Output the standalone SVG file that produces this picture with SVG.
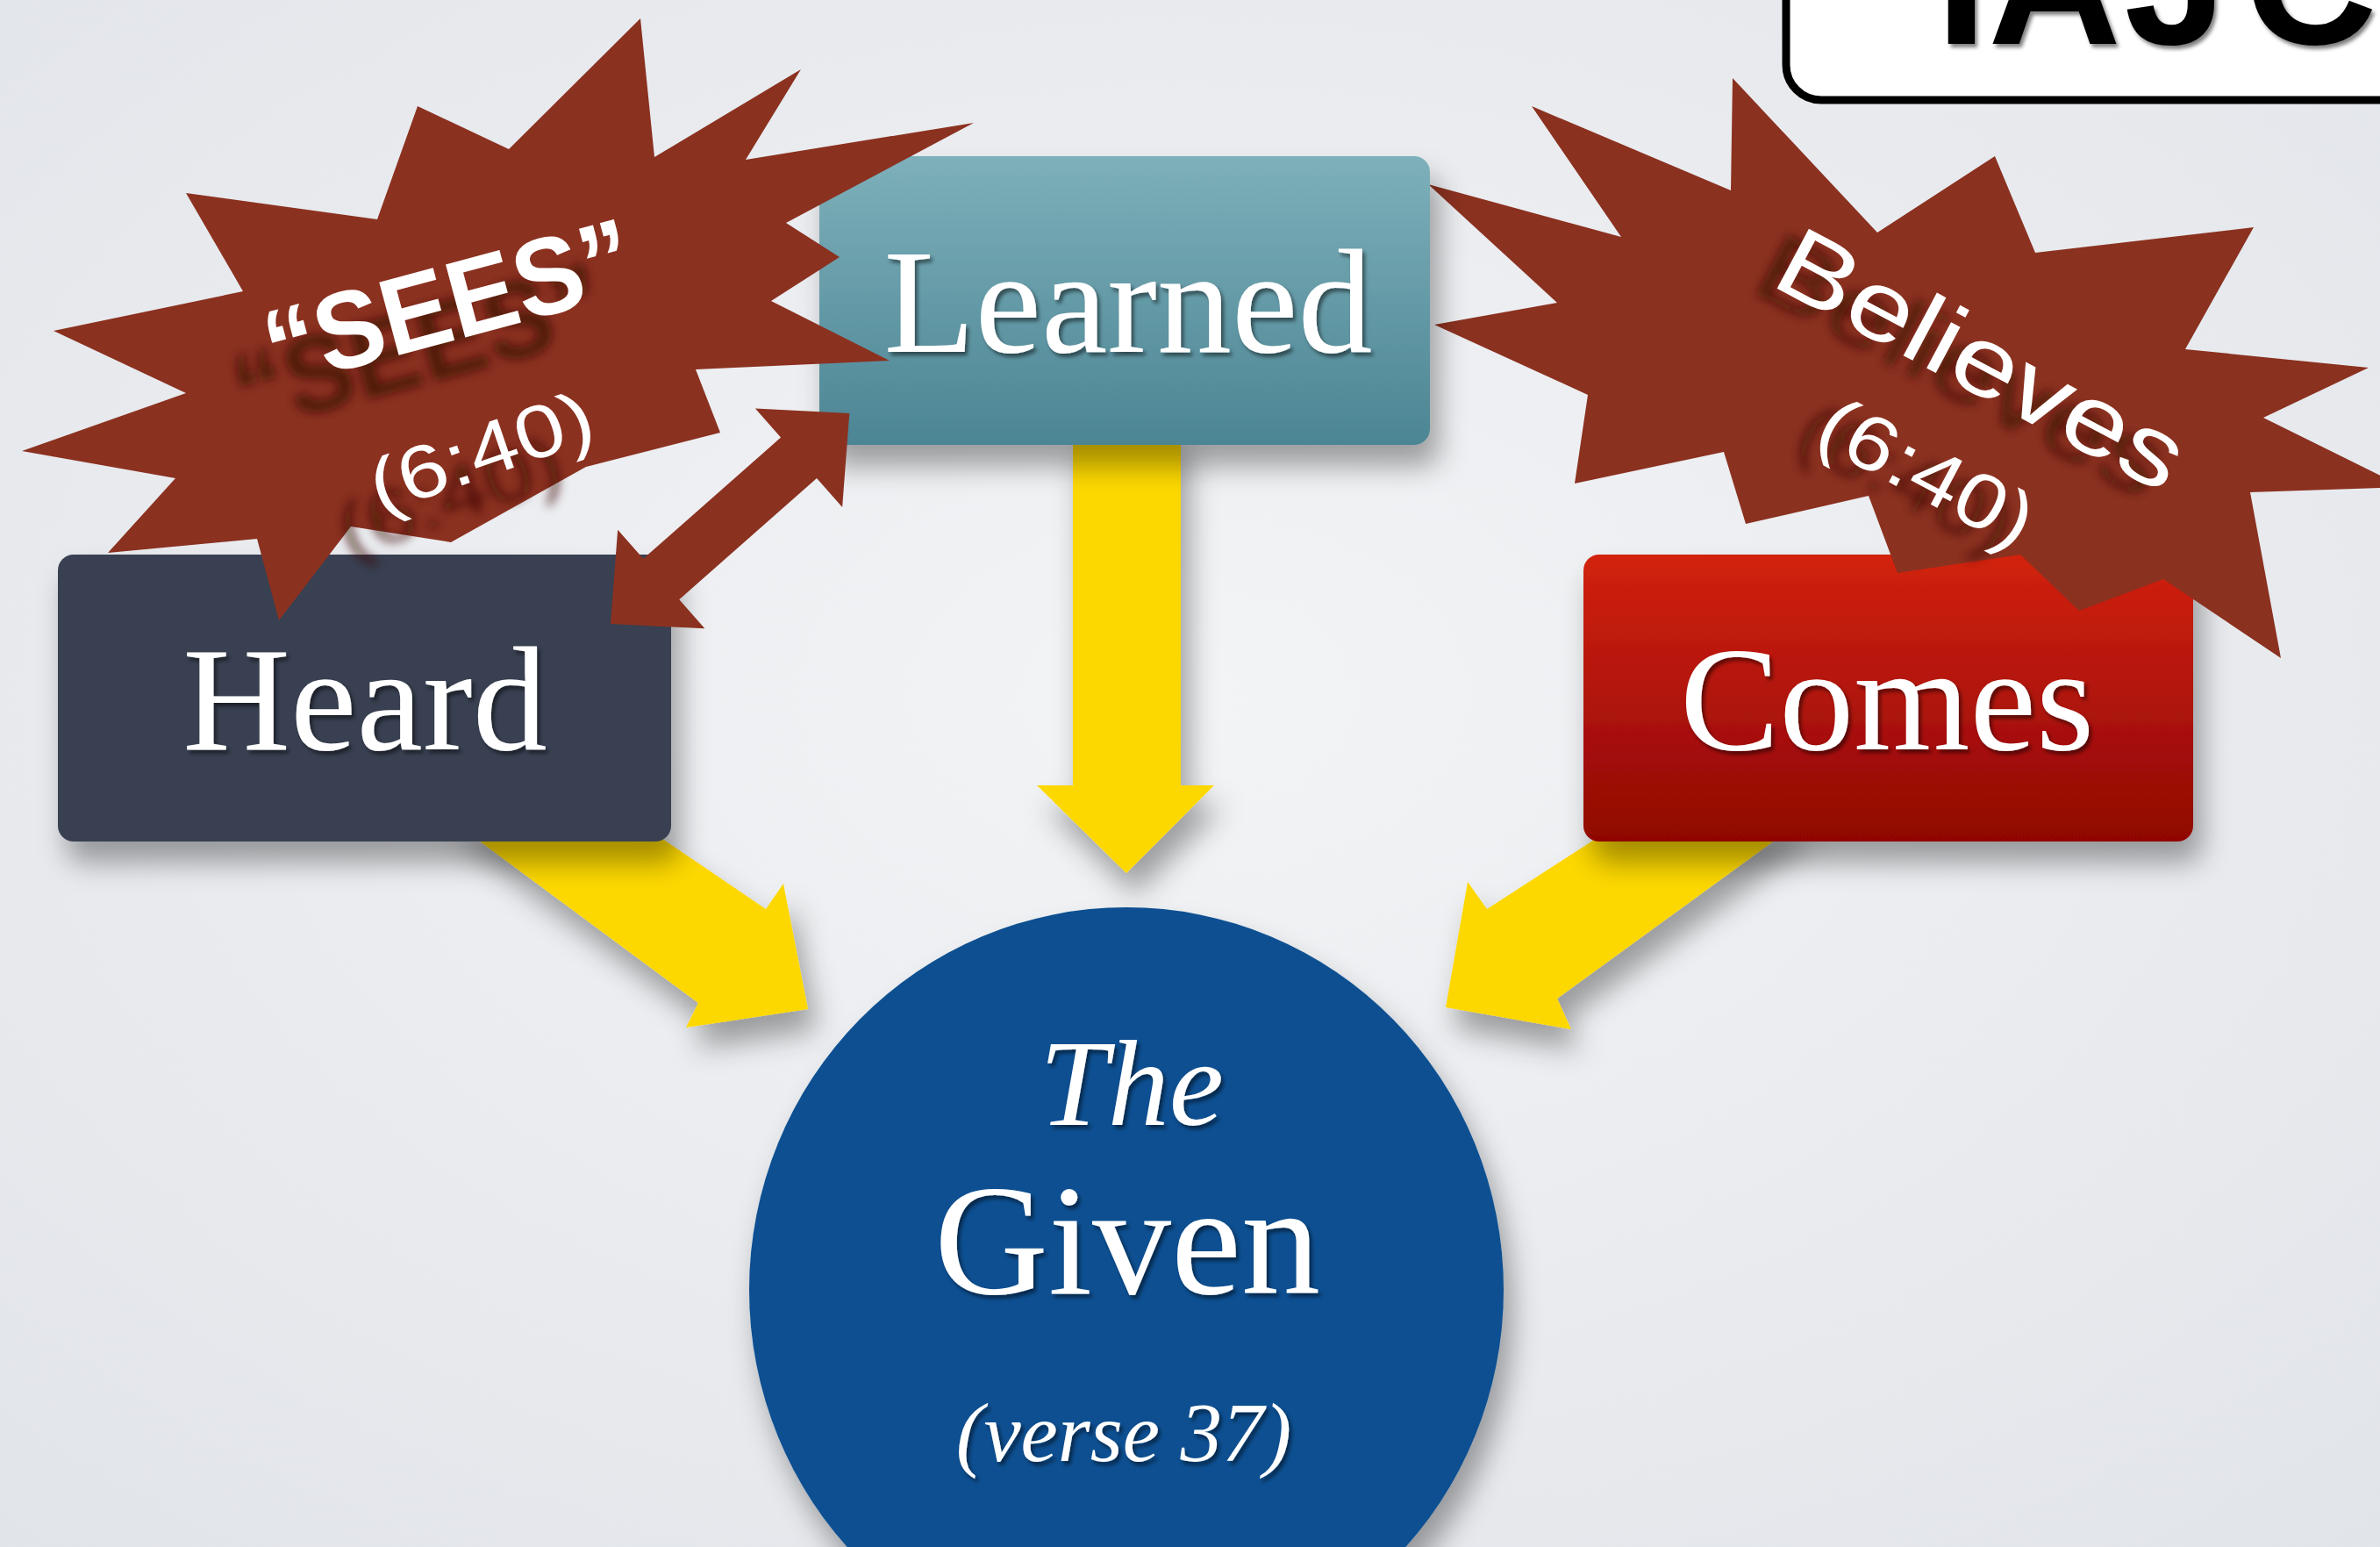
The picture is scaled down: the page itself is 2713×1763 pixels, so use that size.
<svg xmlns="http://www.w3.org/2000/svg" width="2713" height="1763" viewBox="0 0 2713 1763">
<defs>
<radialGradient id="bg" cx="50%" cy="45%" r="75%">
<stop offset="0" stop-color="#f3f4f6"/>
<stop offset="1" stop-color="#e1e4e9"/>
</radialGradient>
<linearGradient id="gLearned" x1="0" y1="0" x2="0" y2="1">
<stop offset="0" stop-color="#7db0ba"/>
<stop offset="1" stop-color="#4c8594"/>
</linearGradient>
<linearGradient id="gComes" x1="0" y1="0" x2="0" y2="1">
<stop offset="0" stop-color="#d2220f"/>
<stop offset="1" stop-color="#8f0604"/>
</linearGradient>
<filter id="sh" x="-20%" y="-20%" width="150%" height="160%">
<feDropShadow dx="10" dy="24" stdDeviation="16" flood-color="#000" flood-opacity="0.35"/>
</filter>
<filter id="ts" x="-10%" y="-20%" width="130%" height="150%">
<feDropShadow dx="3" dy="4" stdDeviation="2" flood-color="#000" flood-opacity="0.5"/>
</filter>
<filter id="blur" x="-20%" y="-50%" width="140%" height="200%">
<feGaussianBlur stdDeviation="6"/>
</filter>
<style>
.box{font-family:"Liberation Serif","Times New Roman",serif;fill:#fff;text-anchor:middle}
.burst{fill:#8b3120}
.yel{fill:#fdd800}
.lbl{font-family:"Liberation Sans",Arial,sans-serif;fill:#fff;text-anchor:middle}
.lsh{font-family:"Liberation Sans",Arial,sans-serif;fill:#3a0c04;fill-opacity:0.75;text-anchor:middle}
</style>
</defs>
<rect x="0" y="0" width="2713" height="1763" fill="url(#bg)"/>

<g id="title">
<rect x="2036" y="-40" width="730" height="154" rx="40" fill="#fff" stroke="#000" stroke-width="9"/>
<text x="2236 2342 2480 2634" y="50" text-anchor="middle" font-family="Liberation Sans, Arial, sans-serif" font-weight="bold" font-size="210" fill="#000" filter="url(#ts)">TAJC</text>
</g>

<g id="connectors">
<polygon class="yel" filter="url(#sh)" points="1223,490 1346,490 1346,895 1384,895 1284,995 1182,895 1223,895"/>
<polygon class="yel" filter="url(#sh)" points="508,930 717,930 873,1036 893,1007 921,1150 782,1171 796,1143"/>
<polygon class="yel" filter="url(#sh)" points="1859,930 2061,930 1775,1138 1791,1173 1648,1148 1673,1005 1695,1036"/>
</g>

<g id="given">
<ellipse cx="1284" cy="1470" rx="430" ry="436" fill="#0c5091" filter="url(#sh)"/>
<text class="box" x="1290" y="1282" style="font-size:140px;font-style:italic" filter="url(#ts)">The</text>
<text class="box" x="1285" y="1474" style="font-size:180px" filter="url(#ts)">Given</text>
<text class="box" x="1281" y="1665" style="font-size:95px;font-style:italic" filter="url(#ts)">(verse 37)</text>
</g>

<g id="heard">
<rect x="66" y="632" width="699" height="327" rx="18" fill="#383f51" filter="url(#sh)"/>
<text class="box" x="416" y="854" style="font-size:170px" filter="url(#ts)">Heard</text>
</g>

<g id="comes">
<rect x="1805" y="632" width="695" height="327" rx="18" fill="url(#gComes)" filter="url(#sh)"/>
<text class="box" x="2151" y="854" style="font-size:170px" filter="url(#ts)">Comes</text>
</g>

<g id="believes">
<polygon class="burst" points="1628,210 1848,270 1746,121 1973,217 1975,89 2140,265 2274,178 2320,288 2569,259 2491,398 2700,419 2580,476 2740,555 2565,561 2600,750 2466,660 2370,696 2303,632 2163,653 2130,565 1990,597 1965,515 1795,551 1810,450 1635,370 1775,345"/>
<g transform="translate(2210,465) rotate(28)" filter="url(#blur)">
<text class="lsh" x="0" y="-17" font-size="112" textLength="510" lengthAdjust="spacingAndGlyphs">Believes</text>
<text class="lsh" x="5" y="118" font-size="88" textLength="265" lengthAdjust="spacingAndGlyphs">(6:40)</text>
</g>
<g transform="translate(2260,408) rotate(28)">
<text class="lbl" x="0" y="40" font-size="112" textLength="510" lengthAdjust="spacingAndGlyphs">Believes</text>
<text class="lbl" x="5" y="175" font-size="88" textLength="265" lengthAdjust="spacingAndGlyphs">(6:40)</text>
</g>
</g>

<g id="learned">
<rect x="934" y="178" width="696" height="329" rx="18" fill="url(#gLearned)" filter="url(#sh)"/>
<text class="box" x="1286" y="401" style="font-size:170px" filter="url(#ts)">Learned</text>
</g>

<g id="sees">
<polygon class="burst" points="730,21 746,179 913,79 850,182 1110,140 896,254 957,293 879,343 1014,411 793,421 821,493 668,532 514,618 400,600 318,707 293,614 123,630 200,545 25,514 212,448 61,377 277,332 212,220 430,250 476,121 580,170"/>
<g transform="translate(476,393) rotate(-15)" filter="url(#blur)">
<text class="lsh" x="0" y="45" font-size="125" font-weight="bold" textLength="430" lengthAdjust="spacingAndGlyphs">“SEES”</text>
</g>
<g transform="translate(512,564) rotate(-19)" filter="url(#blur)">
<text class="lsh" x="0" y="30" font-size="85" textLength="265" lengthAdjust="spacingAndGlyphs">(6:40)</text>
</g>
<g transform="translate(511,343) rotate(-15)">
<text class="lbl" x="0" y="45" font-size="125" font-weight="bold" textLength="430" lengthAdjust="spacingAndGlyphs">“SEES”</text>
</g>
<g transform="translate(548,514) rotate(-19)">
<text class="lbl" x="0" y="30" font-size="85" textLength="265" lengthAdjust="spacingAndGlyphs">(6:40)</text>
</g>
</g>

<g id="connectors-sees">
<polygon class="burst" transform="translate(696,711) rotate(-41.4)" points="0,0 77,-75 77,-31 286,-31 286,-75 363,0 286,75 286,31 77,31 77,75"/>
</g>
</svg>
